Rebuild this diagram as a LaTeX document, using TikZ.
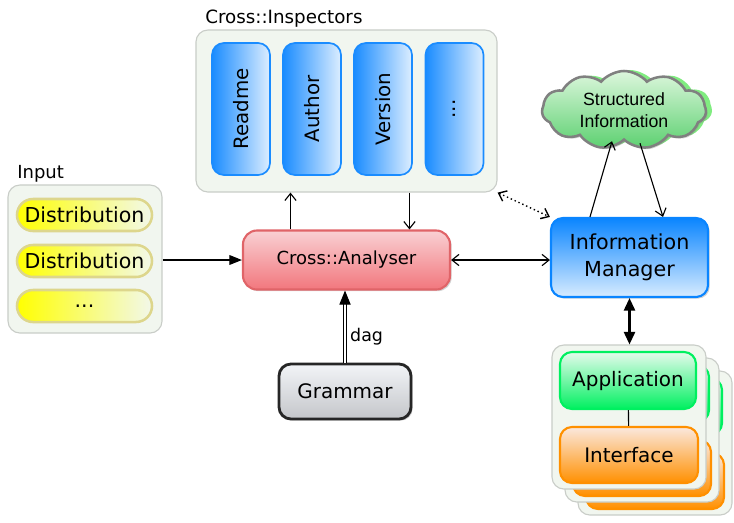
\documentclass[tikz,border=0pt]{standalone}
\usepackage{fontspec}
\setmainfont{DejaVu Sans}
\newfontfamily\cloudfont{Liberation Sans}
\usetikzlibrary{arrows.meta,calc,shapes.symbols,shadows}

\definecolor{panelfill}{HTML}{F1F6EF}
\definecolor{panelline}{HTML}{C9CDC8}
\definecolor{pillline}{HTML}{DDD68C}
\definecolor{pillright}{HTML}{F2F8EA}
\definecolor{inspdark}{HTML}{1A8CFF}
\definecolor{insplight}{HTML}{DDEEFF}
\definecolor{anatop}{HTML}{F9D0D3}
\definecolor{anabottom}{HTML}{F2777D}
\definecolor{analine}{HTML}{E06468}
\definecolor{imtop}{HTML}{0A85FF}
\definecolor{imbottom}{HTML}{D8ECFF}
\definecolor{appgreen}{HTML}{00F060}
\definecolor{apptop}{HTML}{E5FBEC}
\definecolor{ifaceorange}{HTML}{FF9000}
\definecolor{ifacetop}{HTML}{FBE8DE}
\definecolor{gramtop}{HTML}{F2F4F7}
\definecolor{grambottom}{HTML}{C4C6CA}
\definecolor{cloudtop}{HTML}{DDF7DD}
\definecolor{cloudbottom}{HTML}{5CD070}
\definecolor{cloudback}{HTML}{80EC80}

\tikzset{
	panel/.style={draw=panelline, fill=panelfill, line width=0.8pt, rounded corners=0.3cm},
	pill/.style={draw=pillline, line width=1.8pt, rounded corners=0.4cm, left color=yellow, middle color=yellow!35!pillright, right color=pillright, minimum width=3.375cm, minimum height=0.8cm, font=\fontsize{14.6}{17}\selectfont},
	inspbox/.style={draw=inspdark, line width=1.2pt, rounded corners=0.3cm, left color=inspdark, right color=insplight, minimum width=1.45cm, minimum height=3.3cm, font=\fontsize{14.1}{17}\selectfont},
	softshadow/.style={drop shadow={opacity=0.35, shadow xshift=1.2pt, shadow yshift=-1.2pt}},
	puffy/.style={cloud, cloud puffs=11, cloud puff arc=100, aspect=2.2, inner sep=0pt, minimum width=4.1cm, minimum height=1.95cm},
	openarrow/.style={-{Straight Barb[length=5pt,width=8pt]}, line width=0.8pt},
}

\begin{document}
\begin{tikzpicture}[x=0.025cm,y=-0.025cm]
	\useasboundingbox (0,0) rectangle (734,522);

	% input
	\node[anchor=base west, inner sep=0pt, font=\fontsize{12.8}{15}\selectfont] (inlabel) at (17,178) {Input};
	\node[panel, minimum width=3.85cm, minimum height=3.7cm] (inbox) at (85,259) {};
	\node[pill] (dist1) at (84.5,215) {Distribution};
	\node[pill] (dist2) at (84.5,261) {Distribution};
	\node[pill] (dist3) at (84.5,306) {...};

	% inspectors
	\node[anchor=base west, inner sep=0pt, font=\fontsize{13}{15}\selectfont] (insplabel) at (205,23) {Cross::Inspectors};
	\node[panel, minimum width=7.525cm, minimum height=4.05cm] (insp) at (346.5,111) {};
	\node[inspbox] (readme) at (241,109) {\rotatebox{90}{Readme}};
	\node[inspbox] (author) at (312,109) {\rotatebox{90}{Author}};
	\node[inspbox] (version) at (383,109) {\rotatebox{90}{Version}};
	\node[inspbox] (more) at (454.5,109) {\rotatebox{90}{...}};

	% analyser and grammar
	\node[softshadow, draw=analine, line width=1.5pt, rounded corners=0.35cm, top color=anatop, bottom color=anabottom, minimum width=5.175cm, minimum height=1.475cm, font=\fontsize{12.8}{15}\selectfont] (ana) at (346.5,260) {Cross::Analyser};
	\node[softshadow, draw=black!85, line width=2pt, rounded corners=0.3cm, top color=gramtop, bottom color=grambottom, minimum width=3.3cm, minimum height=1.375cm, font=\fontsize{14.2}{17}\selectfont] (gram) at (345,391.5) {Grammar};

	% information manager and cloud
	\node[softshadow, draw=imtop, line width=1.5pt, rounded corners=0.3cm, top color=imtop, bottom color=imbottom, minimum width=3.925cm, minimum height=1.975cm, align=center, font=\fontsize{14.7}{19}\selectfont] (im) at (629.5,257.5) {Information\\Manager};
	\node[puffy, fill=cloudback] (cloudback) at (630,109) {};
	\node[puffy, softshadow, draw=gray, line width=1.8pt, top color=cloudtop, bottom color=cloudbottom, align=center, font=\cloudfont\fontsize{12.6}{15.5}\selectfont] (cloud) at (624,110) {Structured\\Information};

	% application stack
	\foreach \o in {26,13} {
		\node[panel, minimum width=3.85cm, minimum height=3.6cm] (card\o) at (629+\o,417+\o) {};
		\node[draw=appgreen, line width=1.5pt, rounded corners=0.3cm, top color=apptop, bottom color=appgreen, minimum width=3.4cm, minimum height=1.425cm] (app\o) at (628+\o,380.5+\o) {};
		\node[draw=ifaceorange, line width=1.5pt, rounded corners=0.3cm, top color=ifacetop, bottom color=ifaceorange, minimum width=3.45cm, minimum height=1.4cm] (iface\o) at (629+\o,455+\o) {};
	}
	\node[panel, minimum width=3.85cm, minimum height=3.6cm] (card) at (629,417) {};
	\node[draw=appgreen, line width=1.5pt, rounded corners=0.3cm, top color=apptop, bottom color=appgreen, minimum width=3.4cm, minimum height=1.425cm, font=\fontsize{14.2}{17}\selectfont] (app) at (628,380.5) {Application};
	\node[draw=ifaceorange, line width=1.5pt, rounded corners=0.3cm, top color=ifacetop, bottom color=ifaceorange, minimum width=3.45cm, minimum height=1.4cm, font=\fontsize{14.2}{17}\selectfont] (iface) at (629,455) {Interface};
	\draw[line width=0.8pt] (app) -- (iface);

	% connectors
	\draw[line width=0.8pt, -{Triangle[length=9pt,width=7pt]}] (inbox.east |- ana) -- (ana.west);
	\coordinate (anaup) at ($(ana.north)+(-56,0)$);
	\coordinate (anadown) at ($(ana.north)+(63,0)$);
	\draw[openarrow] (anaup) -- (anaup |- insp.south);
	\draw[openarrow] (anadown |- insp.south) -- (anadown);
	\draw[openarrow, {Straight Barb[length=5pt,width=8pt]}-{Straight Barb[length=5pt,width=8pt]}] (ana.east) -- (ana.east -| im.west);
	\draw[line width=1pt, dotted, {Straight Barb[length=5pt,width=8pt]}-{Straight Barb[length=5pt,width=8pt]}] (insp.south east) -- (im.north west);
	\coordinate (imleft) at ($(im.north)+(-39.5,0)$);
	\coordinate (imright) at ($(im.north)+(33.5,0)$);
	\draw[openarrow] (imleft) -- ($(cloud.south)+(-12,0)$);
	\draw[openarrow] ($(cloud.south)+(16,2)$) -- (imright);
	\draw[line width=1.5pt, {Triangle[length=9pt,width=8pt]}-{Triangle[length=9pt,width=8pt]}] (im.south) -- (im.south |- card.north);
	\draw[double, double distance=1.6pt, line width=0.7pt, -{Triangle[length=10pt,width=8pt]}] (gram.north) -- (gram.north |- ana.south) node[right, pos=0.36, font=\fontsize{12.4}{15}\selectfont] {dag};

\end{tikzpicture}
\end{document}
